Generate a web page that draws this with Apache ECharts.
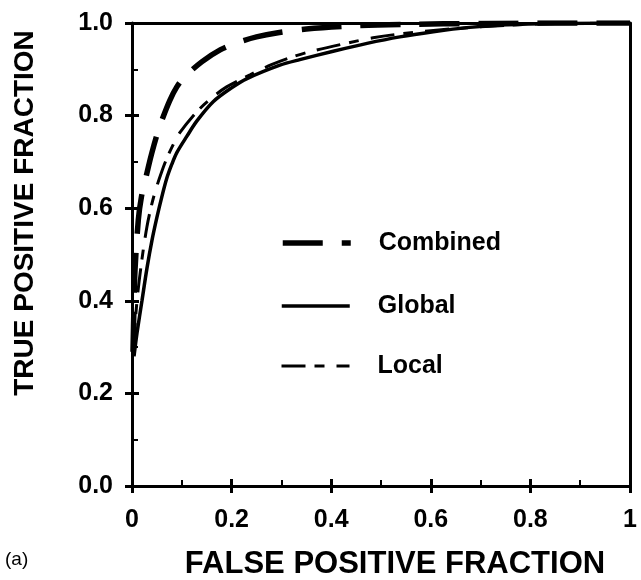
<!DOCTYPE html>
<html>
<head>
<meta charset="utf-8">
<script src="https://cdn.jsdelivr.net/npm/echarts@6/dist/echarts.min.js"></script>
<style>
html,body{margin:0;padding:0;background:#fff;}
#chart{width:641px;height:580px;}
</style>
</head>
<body>
<div id="chart"></div>
<script>
// ---- Data ----
const seriesNames = ['Combined', 'Global', 'Local'];
const combinedData = [
  [0.002,0.29],[0.004,0.39],[0.006,0.466],[0.0127,0.575],[0.019,0.625],[0.026,0.657],
  [0.033,0.69],[0.04,0.72],[0.05,0.758],[0.06,0.79],[0.076,0.833],[0.09,0.862],
  [0.106,0.884],[0.14,0.916],[0.177,0.942],[0.213,0.958],[0.25,0.97],[0.293,0.979],
  [0.35,0.987],[0.45,0.994],[0.55,0.997],[0.7,0.999],[0.85,1.0],[1,1]
];
const globalData = [
  [0.004,0.28],[0.01,0.33],[0.02,0.40],[0.03,0.47],[0.04,0.53],[0.05,0.58],
  [0.06,0.625],[0.07,0.665],[0.08,0.695],[0.09,0.72],[0.11,0.755],[0.13,0.788],
  [0.163,0.83],[0.2,0.86],[0.231,0.88],[0.297,0.909],[0.337,0.921],[0.404,0.939],
  [0.472,0.956],[0.538,0.97],[0.605,0.981],[0.672,0.99],[0.75,0.996],[0.85,0.999],[1,1]
];
const localData = [
  [0.003,0.30],[0.01,0.40],[0.02,0.49],[0.03,0.56],[0.04,0.61],[0.05,0.648],
  [0.06,0.68],[0.07,0.708],[0.083,0.738],[0.096,0.763],[0.13,0.808],[0.16,0.838],
  [0.19,0.862],[0.237,0.888],[0.28,0.91],[0.317,0.925],[0.357,0.938],[0.438,0.958],
  [0.484,0.968],[0.55,0.978],[0.65,0.988],[0.75,0.995],[0.85,0.999],[1,1]
];
const xTickLabels = ['0','0.2','0.4','0.6','0.8','1'];
const yTickLabels = ['0.0','0.2','0.4','0.6','0.8','1.0'];
const xTitle = 'FALSE POSITIVE FRACTION';
const yTitle = 'TRUE POSITIVE FRACTION';
const panelLabel = '(a)';

// ---- Chart ----
const FONT = '"Liberation Sans", Arial, Helvetica, sans-serif';
const chart = echarts.init(document.getElementById('chart'), null, {renderer: 'canvas'});

function tickFmt(labels){
  return function(v){ const i = Math.round(v / 0.2); return labels[i] !== undefined ? labels[i] : ''; };
}

const axisLineStyle = {color: '#000', width: 3};
const styles = {
  Combined: {color: '#000', width: 5.5, type: [40, 19], cap: 'butt'},
  Global:   {color: '#000', width: 3.5, type: 'solid'},
  Local:    {color: '#000', width: 3, type: [24, 9, 10, 12]}
};

function legendAt(name, top){
  return {
    data: [{name: name, lineStyle: styles[name]}], left: 280, top: top, orient: 'horizontal', padding: 0,
    itemWidth: 68, itemHeight: 26, selectedMode: false,
    lineStyle: styles[name],
    itemStyle: {opacity: 0, borderWidth: 0},
    textStyle: {fontFamily: FONT, fontWeight: 'bold', fontSize: 25, color: '#000',
                lineHeight: 26, padding: [0,0,0,23]}
  };
}

const option = {
  backgroundColor: '#fff',
  animation: false,
  grid: {left: 132, right: 11, top: 23, bottom: 94, containLabel: false},
  legend: [legendAt('Combined', 230), legendAt('Global', 293), legendAt('Local', 353)],
  xAxis: [
    {type: 'value', position: 'bottom', min: 0, max: 1, interval: 0.2,
     axisLine: {show: true, onZero: false, lineStyle: axisLineStyle},
     axisTick: {show: true, inside: true, length: 7, lineStyle: {color: '#000', width: 3}},
     minorTick: {show: true, splitNumber: 2, length: 6, lineStyle: {color: '#000', width: 2}},
     axisLabel: {show: true, margin: 22, formatter: tickFmt(xTickLabels),
                 fontFamily: FONT, fontWeight: 'bold', fontSize: 25, color: '#000'},
     splitLine: {show: false}},
    {type: 'value', position: 'bottom', min: 0, max: 1, interval: 0.2,
     axisLine: {show: false, onZero: false},
     axisTick: {show: true, inside: false, length: 7, lineStyle: {color: '#000', width: 3}},
     axisLabel: {show: false}, splitLine: {show: false}},
    {type: 'value', position: 'top', min: 0, max: 1, interval: 0.2,
     axisLine: {show: true, onZero: false, lineStyle: axisLineStyle},
     axisTick: {show: false}, axisLabel: {show: false}, splitLine: {show: false}}
  ],
  yAxis: [
    {type: 'value', position: 'left', min: 0, max: 1, interval: 0.2,
     axisLine: {show: true, onZero: false, lineStyle: axisLineStyle},
     axisTick: {show: true, inside: false, length: 7, lineStyle: {color: '#000', width: 3}},
     axisLabel: {show: true, margin: 19, formatter: tickFmt(yTickLabels),
                 fontFamily: FONT, fontWeight: 'bold', fontSize: 25, color: '#000'},
     splitLine: {show: false}},
    {type: 'value', position: 'left', min: 0, max: 1, interval: 0.2,
     axisLine: {show: false, onZero: false},
     axisTick: {show: true, inside: true, length: 7, lineStyle: {color: '#000', width: 3}},
     minorTick: {show: true, splitNumber: 2, length: 6, lineStyle: {color: '#000', width: 2}},
     axisLabel: {show: false}, splitLine: {show: false}},
    {type: 'value', position: 'right', min: 0, max: 1, interval: 0.2,
     axisLine: {show: true, onZero: false, lineStyle: axisLineStyle},
     axisTick: {show: false}, axisLabel: {show: false}, splitLine: {show: false}}
  ],
  series: [
    {name: seriesNames[0], type: 'line', data: combinedData, smooth: 0.3,
     symbol: 'none', xAxisIndex: 0, yAxisIndex: 0, z: 3, lineStyle: styles.Combined},
    {name: seriesNames[1], type: 'line', data: globalData, smooth: 0.3,
     symbol: 'none', xAxisIndex: 0, yAxisIndex: 0, z: 3, lineStyle: styles.Global},
    {name: seriesNames[2], type: 'line', data: localData, smooth: 0.3,
     symbol: 'none', xAxisIndex: 0, yAxisIndex: 0, z: 3, lineStyle: styles.Local}
  ],
  graphic: [
    {type: 'text', z: 10, x: 395, y: 564,
     style: {text: xTitle, x: 0, y: 0, align: 'center', verticalAlign: 'middle',
             font: 'bold 31px ' + FONT, fill: '#000'}},
    {type: 'text', z: 10, rotation: Math.PI / 2, x: 25, y: 213,
     style: {text: yTitle, x: 0, y: 0, align: 'center', verticalAlign: 'middle',
             font: 'bold 28px ' + FONT, fill: '#000'}},
    {type: 'text', z: 10, x: 5, y: 560,
     style: {text: panelLabel, x: 0, y: 0, align: 'left', verticalAlign: 'middle',
             font: '19px ' + FONT, fill: '#000'}}
  ]
};
chart.setOption(option);
</script>
</body>
</html>
